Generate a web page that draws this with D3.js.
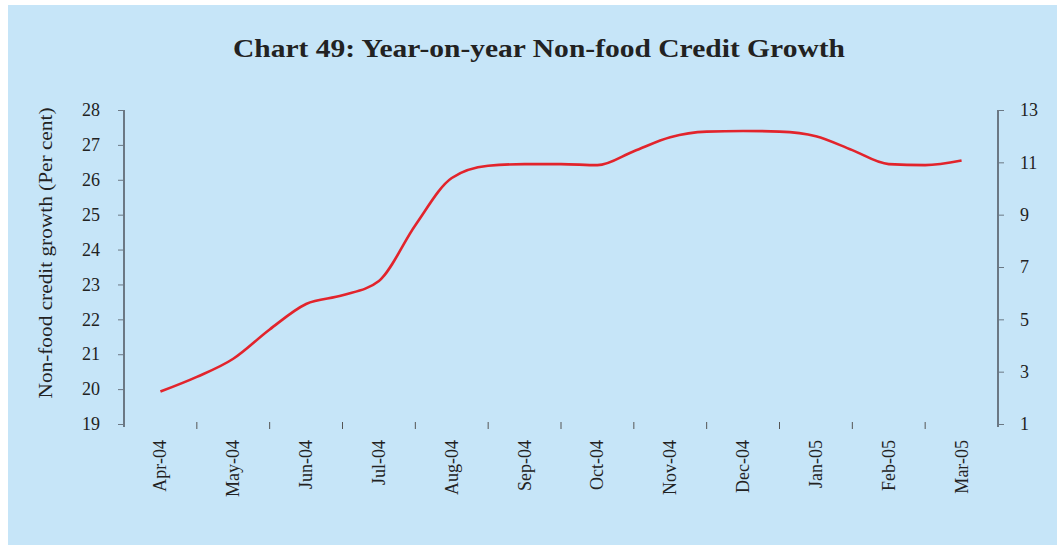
<!DOCTYPE html>
<html>
<head>
<meta charset="utf-8">
<script src="https://cdn.jsdelivr.net/npm/d3@7"></script>
<style>
  body { margin: 0; background: #fff; }
  text { font-family: "Liberation Serif", "DejaVu Serif", serif; fill: #222; }
</style>
</head>
<body>
<svg id="svg" width="1057" height="545"></svg>
<script>
// month categories on the x axis
const months = ["Apr-04", "May-04", "Jun-04", "Jul-04", "Aug-04", "Sep-04",
                "Oct-04", "Nov-04", "Dec-04", "Jan-05", "Feb-05", "Mar-05"]
// fortnightly positions, in months from Apr-04
const periods = [0, 0.5, 1, 1.5, 2, 2.5, 3, 3.5, 4, 4.5, 5, 5.5,
                 6, 6.5, 7, 7.5, 8, 8.5, 9, 9.5, 10, 10.5, 11]
// non-food credit growth, per cent
const growth = [19.93, 20.35, 20.87, 21.71, 22.44, 22.69, 23.1, 24.7, 26.05, 26.4, 26.45, 26.45,
                26.42, 26.82, 27.22, 27.38, 27.4, 27.38, 27.25, 26.85, 26.45, 26.42, 26.55]
const leftTicks = [19, 20, 21, 22, 23, 24, 25, 26, 27, 28]
const rightTicks = [1, 3, 5, 7, 9, 11, 13]

var svg = d3.select("svg")

// light blue panel
svg.append("rect").attr("x", 8).attr("y", 5).attr("width", 1049).attr("height", 540).attr("fill", "#c6e5f8")

// plot area edges (not called top/bottom, window.top is taken)
var plotL = 124, plotR = 998, plotT = 110, plotB = 424

var x = d3.scaleBand().domain(months).range([plotL, plotR])
var xPos = d3.scaleLinear().domain([0, 11]).range([x(months[0]) + x.bandwidth() / 2, x(months[11]) + x.bandwidth() / 2])
var y = d3.scaleLinear().domain([19, 28]).range([plotB, plotT])
var y2 = d3.scaleLinear().domain([1, 13]).range([plotB, plotT])

// title
svg.append("text").attr("x", 539).attr("y", 57).attr("text-anchor", "middle")
    .attr("font-size", 25).attr("font-weight", "bold")
    .attr("textLength", 612).attr("lengthAdjust", "spacingAndGlyphs")
    .text("Chart 49: Year-on-year Non-food Credit Growth")

// left axis
var axisColour = "#6b7884"
var gl = svg.append("g").attr("transform", "translate(" + plotL + ",0)")
    .call(d3.axisLeft(y).tickValues(leftTicks).tickSize(6).tickPadding(18))
gl.select(".domain").attr("stroke", axisColour).attr("stroke-width", 2).attr("d", "M0," + plotT + "V" + (plotB + 3))
gl.selectAll(".tick line").attr("stroke", axisColour)
gl.selectAll(".tick text").attr("font-size", 18).attr("font-family", "Liberation Serif").attr("fill", "#333")

// right axis
var gr = svg.append("g").attr("transform", "translate(" + plotR + ",0)")
    .call(d3.axisRight(y2).tickValues(rightTicks).tickSize(6).tickPadding(16))
gr.select(".domain").attr("stroke", axisColour).attr("stroke-width", 2).attr("d", "M0," + plotT + "V" + (plotB + 3))
gr.selectAll(".tick line").attr("stroke", axisColour)
gr.selectAll(".tick text").attr("font-size", 18).attr("font-family", "Liberation Serif").attr("fill", "#333")

// x ticks sit between the months, labels rotated
var bounds = months.slice(1).map(m => x(m))
svg.selectAll(".xtick").data(bounds).enter().append("line")
    .attr("x1", d => d).attr("x2", d => d)
    .attr("y1", plotB - 2).attr("y2", plotB + 5)
    .attr("stroke", "#555").attr("stroke-width", 1)

svg.selectAll(".xlab").data(months).enter().append("text")
    .attr("transform", d => "translate(" + (x(d) + x.bandwidth() / 2 + 6) + ",440) rotate(-90)")
    .attr("text-anchor", "end")
    .attr("font-size", 18)
    .attr("fill", "#333")
    .text(d => d)

// y axis title
svg.append("text")
    .attr("transform", "translate(52,253) rotate(-90)")
    .attr("text-anchor", "middle")
    .attr("font-size", 19)
    .attr("textLength", 291).attr("lengthAdjust", "spacingAndGlyphs")
    .attr("fill", "#333")
    .text("Non-food credit growth (Per cent)")

// the growth line
var line = d3.line()
    .x((d, i) => xPos(periods[i]))
    .y(d => y(d))
    .curve(d3.curveMonotoneX)

svg.append("path").datum(growth)
    .attr("d", line)
    .attr("fill", "none")
    .attr("stroke", "#e2242c")
    .attr("stroke-width", 2.6)
</script>
</body>
</html>
